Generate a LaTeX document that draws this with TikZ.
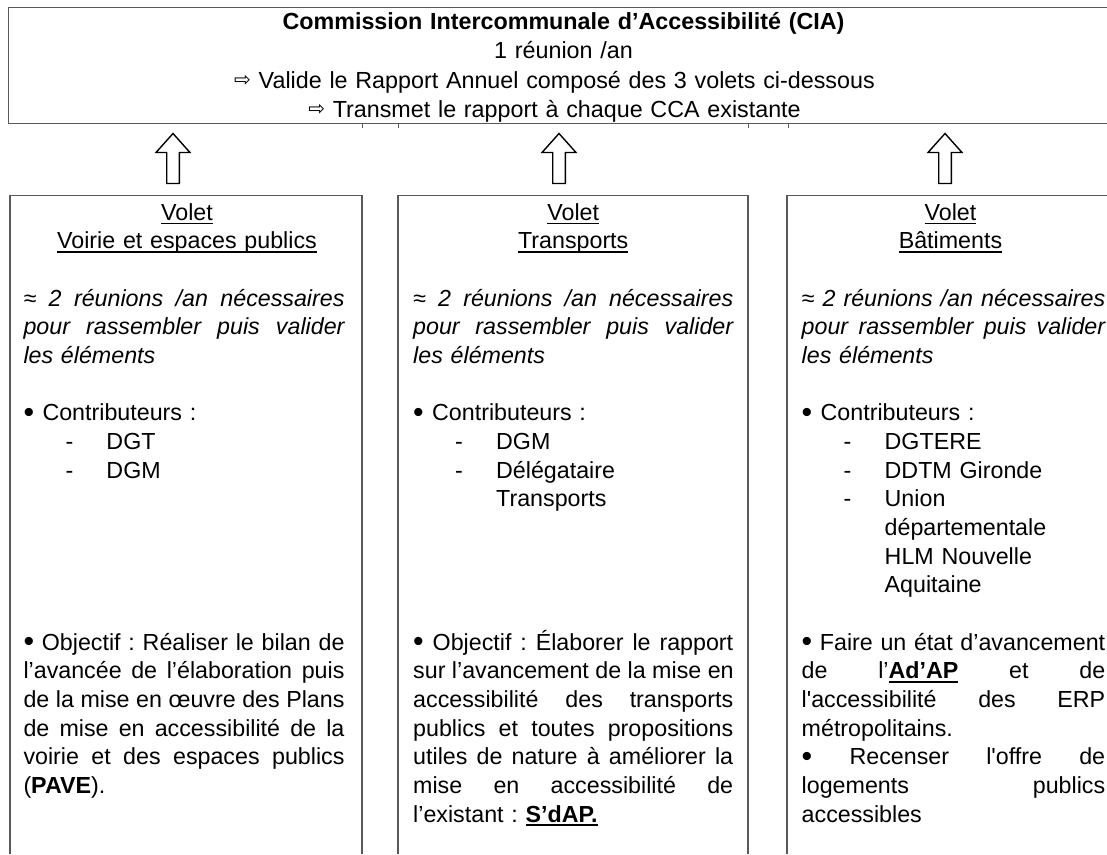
\documentclass[tikz,border=0pt]{standalone}
\usepackage{graphicx}
\usepackage{fontspec}
\setmainfont{Liberation Sans}
\newfontfamily\djv{DejaVu Sans}
\newsavebox\ulbox
\newcommand\myul[2][1.4pt]{\sbox\ulbox{#2}\rlap{\rule[-4pt]{\wd\ulbox}{#1}}\usebox\ulbox}
\hbadness=10000 \vbadness=10000 \hfuzz=6pt
\frenchspacing
\newcommand\colfont{\fontsize{23.25}{28.67}\selectfont}
\newcommand\topfont{\fontsize{23.3}{29.3}\selectfont}
\newcommand\jl[2][]{\hbox to\linewidth{#1\spaceskip=\fontdimen2\font plus 1fil\relax\xspaceskip=\spaceskip #2}\par}
\newcommand\ttl[2]{\makebox[\linewidth]{\hspace*{#1}\myul{#2}\hspace*{-#1}}\par}
\newcommand\blank{\mbox{}\par}
\newcommand\dashitem[1]{\hspace*{42pt}\makebox[41pt][l]{-}#1\par}
\newcommand\contitem[1]{\hspace*{83pt}#1\par}
\newcommand\bul{\raisebox{-1.6pt}{\scalebox{1.3}{•}}}
\newcommand\bulhead[1]{\makebox[19pt][l]{\bul}#1\par}
\newcommand\warr{\raisebox{1.5pt}{\djv\fontsize{20}{20}\selectfont ⇨}}
\tikzset{
  frame/.style={draw=black!65, line width=1.3pt},
  blockarr/.style={draw=black, line width=1.4pt, fill=white, line join=miter},
  coltext/.style={anchor=base west, inner sep=0pt, font=\colfont},
}
\begin{document}
\begin{tikzpicture}[x=1pt,y=-1pt]
\useasboundingbox (0,0) rectangle (1107,854);
% top box
\draw[frame] (1107,7.5) -| (8.5,123.5) -- (1107,123.5);
\foreach \t in {362,398,748,788} \draw[frame, line width=0.8pt] (\t,123.5) -- (\t,127.5);
\node[anchor=base, inner sep=0pt, text width=1090pt, align=center, font=\topfont] (cia) at (563.5,29.5)
  {\textbf{Commission Intercommunale d’Accessibilité (CIA)}\\
   1 réunion /an\\
   \warr{} Valide le Rapport Annuel composé des 3 volets ci-dessous\rule{18pt}{0pt}\\
   \warr{} Transmet le rapport à chaque CCA existante\rule{18pt}{0pt}};
% column boxes
\draw[frame] (10,854) |- (362,195.5) -- (362,854);
\draw[frame] (398,854) |- (748,195.5) -- (748,854);
\draw[frame] (787,854) |- (1107,195.5);
% block arrows
\foreach \cx/\nm in {173/a, 559/b, 945/c} {
  \coordinate (\nm) at (\cx,133.5);
  \draw[blockarr] (\nm) -- ++(17,19) -- ++(-10.7,0) -- ++(0,31) -- ++(-12.6,0)
     -- ++(0,-31) -- ++(-10.7,0) -- cycle;
}
% left column
\node[coltext, text width=321pt] (voirie) at (23.3,220) {%
\ttl{3pt}{Volet}
\ttl{3pt}{Voirie et espaces publics}
\blank
\jl[\itshape]{≈ 2 réunions /an nécessaires}
\jl[\itshape]{pour rassembler puis valider}
{\itshape les éléments}\par
\blank
\bulhead{Contributeurs :}
\dashitem{DGT}
\dashitem{DGM}
\blank\blank\blank\blank\blank
\jl{\bul{} Objectif : Réaliser le bilan de}
\jl{l’avancée de l’élaboration puis}
\jl{de la mise en œuvre des Plans}
\jl{de mise en accessibilité de la}
\jl{voirie et des espaces publics}
(\textbf{PAVE}).\par};
% middle column
\node[coltext, text width=320pt] (transp) at (413,220) {%
\ttl{0pt}{Volet}
\ttl{0pt}{Transports}
\blank
\jl[\itshape]{≈ 2 réunions /an nécessaires}
\jl[\itshape]{pour rassembler puis valider}
{\itshape les éléments}\par
\blank
\bulhead{Contributeurs :}
\dashitem{DGM}
\dashitem{Délégataire}
\contitem{Transports}
\blank\blank\blank\blank
\jl{\bul{} Objectif : Élaborer le rapport}
\jl{sur l’avancement de la mise en}
\jl{accessibilité des transports}
\jl{publics et toutes propositions}
\jl{utiles de nature à améliorer la}
\jl{mise en accessibilité de}
l’existant : \myul[2.2pt]{\textbf{S’dAP.}}\par};
% right column
\node[coltext, text width=303.5pt] (batim) at (801.5,220) {%
\ttl{-3pt}{Volet}
\ttl{-3pt}{Bâtiments}
\blank
\jl[\itshape]{≈ 2 réunions /an nécessaires}
\jl[\itshape]{pour rassembler puis valider}
{\itshape les éléments}\par
\blank
\bulhead{Contributeurs :}
\dashitem{DGTERE}
\dashitem{DDTM Gironde}
\dashitem{Union}
\contitem{départementale}
\contitem{HLM Nouvelle}
\contitem{Aquitaine}
\blank
\jl{\bul{} Faire un état d’avancement}
\jl{de l’\myul[2.2pt]{\textbf{Ad’AP}} et de}
\jl{l\textquotesingle accessibilité des ERP}
métropolitains.\par
\jl{\bul{} Recenser l\textquotesingle offre de}
\jl{logements publics}
accessibles\par};
\end{tikzpicture}
\end{document}
